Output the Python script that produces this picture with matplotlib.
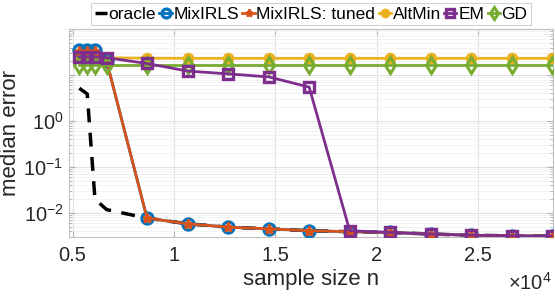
import numpy as np
import matplotlib
matplotlib.use('Agg')
import matplotlib.pyplot as plt

plt.rcParams['font.family'] = ['Liberation Sans', 'DejaVu Sans']
plt.rcParams['mathtext.fontset'] = 'custom'
plt.rcParams['mathtext.rm'] = 'Liberation Sans'
plt.rcParams['mathtext.it'] = 'Liberation Sans:italic'

# sample sizes (x 10^4)
n = [0.533, 0.572, 0.61, 0.668, 0.867, 1.067, 1.267, 1.467, 1.667, 1.867,
     2.067, 2.267, 2.467, 2.667, 2.867]

low = [0.0077, 0.0058, 0.0049, 0.0045, 0.0041, 0.0039, 0.00375, 0.00347, 0.00326, 0.00318, 0.0031]

oracle = [5.2, 3.9, 0.020, 0.0118] + low
mixirls = [35.0, 35.0, 35.0, 20.0] + low
mixirls_tuned = [33.0, 33.0, 33.0, 20.0] + low
altmin = [23.5, 23.5, 23.5, 24.0, 23.5, 23.3, 23.3, 23.3, 23.3, 23.3, 23.3, 23.3, 23.3, 23.3, 23.3]
em = [25.0, 25.0, 25.0, 24.0, 18.0, 12.3, 10.7, 9.2, 5.5, 0.0041,
      0.00375, 0.00347, 0.00326, 0.00318, 0.0031]
gd = [16.3] * 15

labels = ['oracle', 'MixIRLS', 'MixIRLS: tuned', 'AltMin', 'EM', 'GD']

fig = plt.figure(figsize=(5.55, 2.97), dpi=100)
ax = fig.add_axes([69/555, 1 - 236.6/297, (553-69)/555, (236.6-29.3)/297])

lw = 2.0
ax.plot(n, oracle, '--', color='k', lw=2.5, dashes=(4, 3), label=labels[0], zorder=3)
ax.plot(n, mixirls, '-o', color='#0072BD', lw=lw, ms=8, mew=2.3, mfc='none', label=labels[1], zorder=4)
ax.plot(n, mixirls_tuned, '-*', color='#D95319', lw=lw, ms=6.5, mew=1.8, label=labels[2], zorder=5)
ax.plot(n, altmin, '-o', color='#EDB120', lw=lw, ms=6.5, mew=1.8, label=labels[3], zorder=3)
ax.plot(n, em, '-s', color='#7E2F8E', lw=lw, ms=7, mew=2.4, mfc='none', label=labels[4], zorder=6)
ax.plot(n, gd, '-d', color='#77AC30', lw=lw, ms=8, mew=2.2, mfc='none', label=labels[5], zorder=5)

ax.set_yscale('log')
ax.set_xlim(0.482, 2.87)
ax.set_ylim(3.05e-3, 100)
ax.set_xticks([0.5, 1, 1.5, 2, 2.5])
ax.set_xticklabels(['0.5', '1', '1.5', '2', '2.5'])
ax.set_yticks([1e-2, 1e-1, 1e0, 1e1, 1e2])
ax.set_yticklabels([r'$10^{-2}$', r'$10^{-1}$', r'$10^{0}$', '', ''])

ax.grid(True, which='major', color='#e3e3e3', lw=0.8)
ax.grid(True, which='minor', axis='y', color='#f0f0f0', lw=0.6)
ax.set_axisbelow(True)
ax.tick_params(which='both', direction='in', top=True, right=True, color='#b0b0b0',
               labelsize=14.5, labelcolor='#262626', length=4)
ax.tick_params(which='minor', length=2)
ax.tick_params(axis='x', pad=7)
ax.tick_params(axis='y', pad=4)
for s in ax.spines.values():
    s.set_color('#c0c0c0')
    s.set_linewidth(0.8)

ax.set_xlabel('sample size n', fontsize=16, color='#262626', labelpad=3)
ax.set_ylabel('median error', fontsize=16, color='#262626', labelpad=2)
fig.text(0.995, 0.012, r'$\times10^{4}$', ha='right', va='bottom', fontsize=14.5, color='#262626')

leg = ax.legend(loc='lower center', bbox_to_anchor=(0.5, 1.01), ncol=6, fontsize=12.5,
                handlelength=0.7, handletextpad=0.1, columnspacing=0.2, borderpad=0.2,
                borderaxespad=0.1, frameon=True, fancybox=False, edgecolor='#c8c8c8',
                markerscale=0.8)
leg.get_frame().set_linewidth(0.8)

fig.savefig('out.png', dpi=100)
